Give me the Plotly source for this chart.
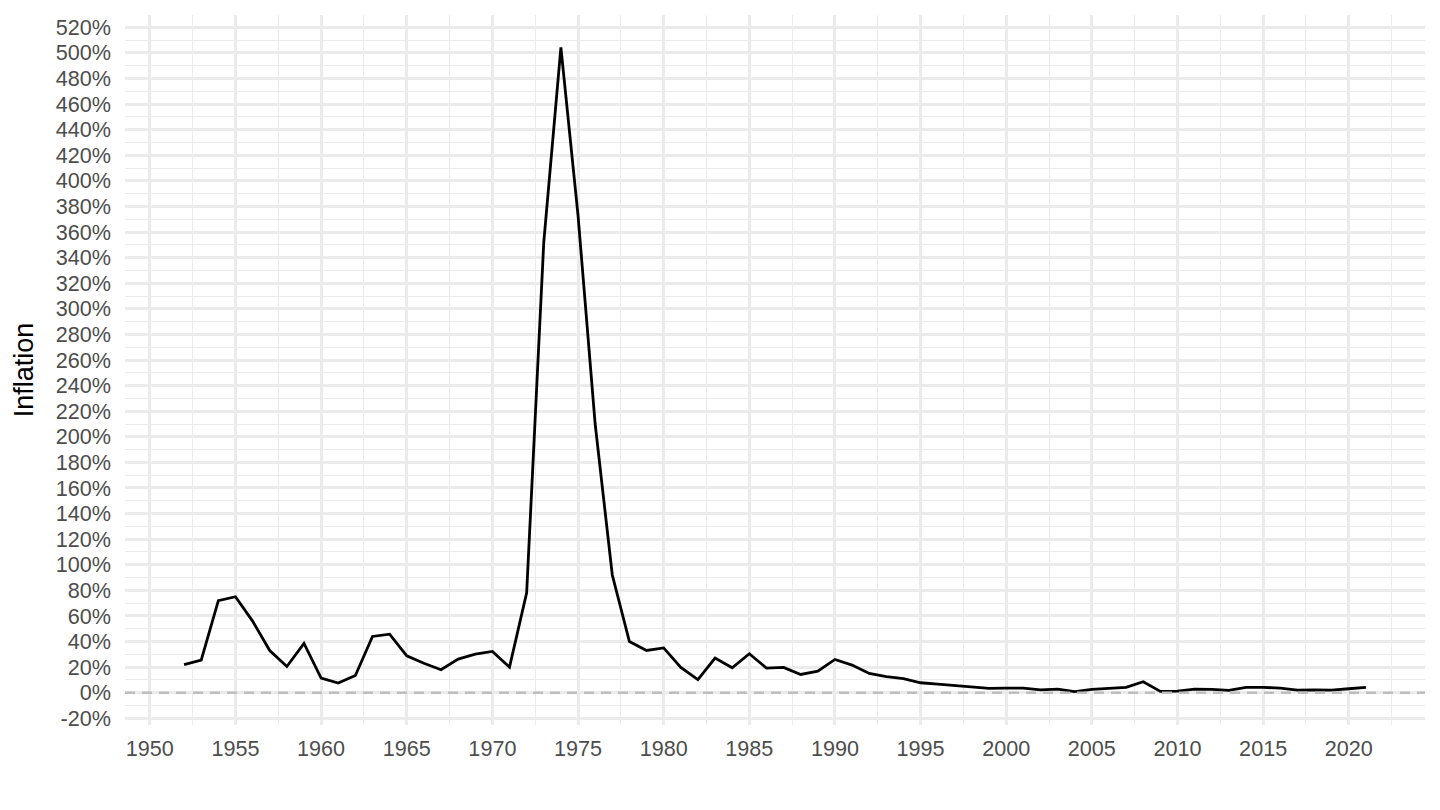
import plotly.graph_objects as go

# yearly inflation, %
years = list(range(1952, 2022))
inflation = [22, 25.5, 72, 75, 56, 33, 20.5, 38.5, 11.5, 7.5,
             13.5, 44, 45.8, 28.8, 23, 18, 26.3, 30.2, 32.3, 20,
             78, 352, 504.4, 373, 210, 92, 40, 33, 35, 19.8,
             10.2, 27.1, 19.5, 30.5, 19.3, 19.8, 14.3, 16.8, 26, 21.6,
             15.1, 12.5, 11, 7.8, 6.8, 5.5, 4.7, 3.4, 3.6, 3.6,
             2.3, 2.8, 0.8, 2.6, 3.4, 4.2, 8.6, 1.0, 1.3, 2.8,
             2.6, 1.8, 4.2, 4.2, 3.6, 2.1, 2.3, 2.1, 3.1, 4.2]

y_ticks = list(range(-20, 521, 20))
y_labels = [f"{v}%" for v in y_ticks]
x_ticks = list(range(1950, 2021, 5))

FONT = "Liberation Sans, Arial, sans-serif"
GRID = "#EBEBEB"

fig = go.Figure()
fig.add_trace(go.Scatter(x=years, y=inflation, mode="lines",
                         line=dict(color="black", width=2.8), showlegend=False))
# dashed zero line (drawn on top, the 0 gridline would hide it otherwise)
fig.add_hline(y=0, line=dict(color="#BEBEBE", width=2.4, dash="10px,7px"))

fig.update_xaxes(range=[1948.55, 2024.45], tickvals=x_ticks,
                 showgrid=True, gridcolor=GRID, gridwidth=2.6, zeroline=False,
                 showline=False, ticks="", ticklabelstandoff=8,
                 tickfont=dict(family=FONT, size=21.6, color="#4D4D4D"),
                 minor=dict(dtick=2.5, tick0=1950, showgrid=True, gridcolor=GRID, gridwidth=1.3))
fig.update_yaxes(range=[-25.22, 529.62], tickvals=y_ticks, ticktext=y_labels,
                 showgrid=True, gridcolor=GRID, gridwidth=2.6, zeroline=False,
                 showline=False, ticks="", ticklabelstandoff=13,
                 tickfont=dict(family=FONT, size=21.6, color="#4D4D4D"),
                 minor=dict(dtick=10, tick0=0, showgrid=True, gridcolor=GRID, gridwidth=1.3),
                 title=dict(text="Inflation", standoff=14,
                            font=dict(family=FONT, size=27, color="black")))

# page body has an 8px margin, so the figure is shrunk to fit the window
fig.update_layout(width=1432, height=802, plot_bgcolor="white", paper_bgcolor="white",
                  margin=dict(l=117, r=15, t=7, b=85), font=dict(family=FONT))

fig.write_html("out.html")
